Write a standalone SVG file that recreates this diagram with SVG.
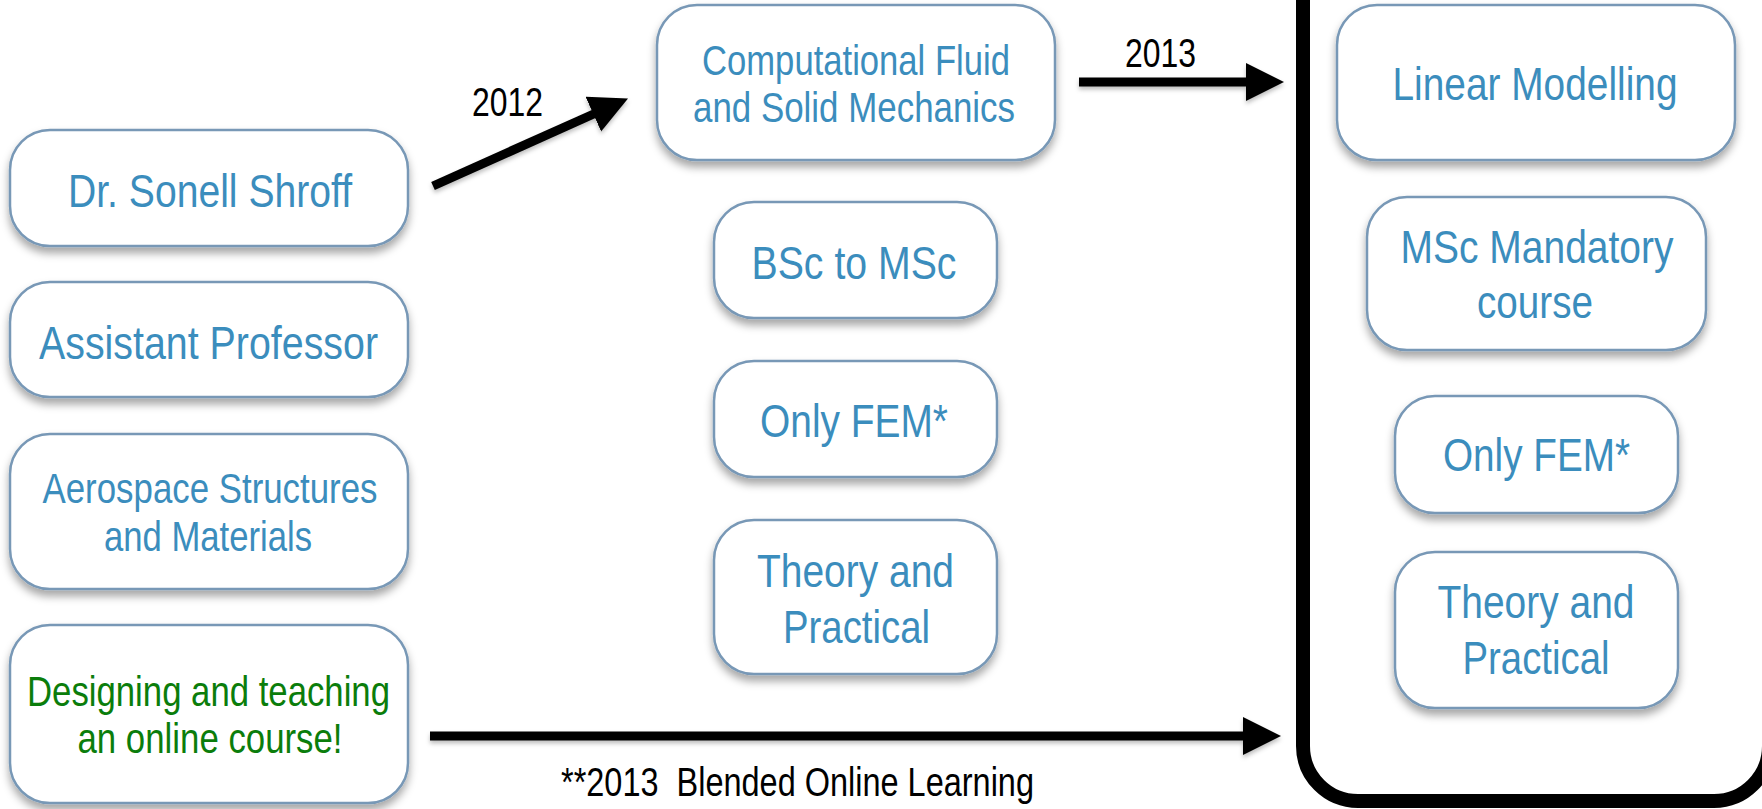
<svg xmlns="http://www.w3.org/2000/svg" width="1762" height="809" viewBox="0 0 1762 809">
  <defs>
    <style>
      .box { fill: #ffffff; stroke: #7898b6; stroke-width: 2.5; filter: url(#shadow); }
      .t { font-family: "Liberation Sans", Arial, sans-serif; fill: #3b8dbd; text-anchor: middle; }
      .big { font-size: 47px; }
      .mid { font-size: 42px; }
      .green { fill: #0b7d0b; }
      .lbl { font-family: "Liberation Sans", Arial, sans-serif; fill: #000000; font-size: 40px; text-anchor: middle; }
      .arrow { stroke: #000000; stroke-width: 9; fill: none; marker-end: url(#head); }
      .container { fill: #ffffff; stroke: #000000; stroke-width: 14; }
    </style>
    <filter id="shadow" x="-10%" y="-10%" width="120%" height="135%">
      <feDropShadow dx="0" dy="6" stdDeviation="4" flood-color="#000000" flood-opacity="0.35"/>
    </filter>
    <filter id="ashadow" filterUnits="userSpaceOnUse" x="0" y="0" width="1762" height="809">
      <feDropShadow dx="0" dy="3" stdDeviation="2" flood-color="#000000" flood-opacity="0.25"/>
    </filter>
    <marker id="head" markerUnits="userSpaceOnUse" markerWidth="42" markerHeight="42" refX="4" refY="19" orient="auto">
      <path d="M0,0 L38,19 L0,38 Z" fill="#000000"/>
    </marker>
  </defs>

  <rect x="0" y="0" width="1762" height="809" fill="#ffffff"/>

  <g id="container">
    <rect class="container" x="1303" y="-60" width="466" height="861" rx="55" ry="55"/>
  </g>

  <g id="connectors" filter="url(#ashadow)">
    <line class="arrow" x1="433" y1="186" x2="597" y2="112.5"/>
    <line class="arrow" x1="1079" y1="82" x2="1250" y2="82"/>
    <line class="arrow" x1="430" y1="736" x2="1247" y2="736"/>
  </g>
  <g id="connector-labels">
    <text class="lbl" x="507.5" y="116" textLength="71" lengthAdjust="spacingAndGlyphs">2012</text>
    <text class="lbl" x="1160.5" y="67" textLength="71" lengthAdjust="spacingAndGlyphs">2013</text>
    <text class="lbl" x="797.5" y="796" textLength="473" lengthAdjust="spacingAndGlyphs" style="white-space:pre">**2013  Blended Online Learning</text>
  </g>

  <g id="node-dr-sonell">
    <rect class="box" x="10" y="130" width="398" height="116" rx="40"/>
    <text class="t big" x="210" y="207" textLength="284" lengthAdjust="spacingAndGlyphs">Dr. Sonell Shroff</text>
  </g>
  <g id="node-assistant-professor">
    <rect class="box" x="10" y="282" width="398" height="115" rx="40"/>
    <text class="t big" x="208.5" y="359" textLength="339" lengthAdjust="spacingAndGlyphs">Assistant Professor</text>
  </g>
  <g id="node-aerospace">
    <rect class="box" x="10" y="434" width="398" height="155" rx="40"/>
    <text class="t mid" x="210" y="503" textLength="335" lengthAdjust="spacingAndGlyphs">Aerospace Structures</text>
    <text class="t mid" x="208" y="551" textLength="208" lengthAdjust="spacingAndGlyphs">and Materials</text>
  </g>
  <g id="node-designing">
    <rect class="box" x="10" y="625" width="398" height="178" rx="40"/>
    <text class="t mid green" x="208.5" y="706" textLength="363" lengthAdjust="spacingAndGlyphs">Designing and teaching</text>
    <text class="t mid green" x="210" y="753" textLength="265" lengthAdjust="spacingAndGlyphs">an online course!</text>
  </g>

  <g id="node-cfsm">
    <rect class="box" x="657" y="5" width="398" height="155" rx="40"/>
    <text class="t mid" x="856" y="75" textLength="308" lengthAdjust="spacingAndGlyphs">Computational Fluid</text>
    <text class="t mid" x="854" y="122" textLength="322" lengthAdjust="spacingAndGlyphs">and Solid Mechanics</text>
  </g>
  <g id="node-bsc-msc">
    <rect class="box" x="714" y="202" width="283" height="116" rx="40"/>
    <text class="t big" x="854" y="279" textLength="205" lengthAdjust="spacingAndGlyphs">BSc to MSc</text>
  </g>
  <g id="node-only-fem-1">
    <rect class="box" x="714" y="361" width="283" height="116" rx="40"/>
    <text class="t big" x="854" y="437" textLength="188" lengthAdjust="spacingAndGlyphs">Only FEM*</text>
  </g>
  <g id="node-theory-1">
    <rect class="box" x="714" y="520" width="283" height="154" rx="40"/>
    <text class="t big" x="855.5" y="587" textLength="197" lengthAdjust="spacingAndGlyphs">Theory and</text>
    <text class="t big" x="856.5" y="643" textLength="147" lengthAdjust="spacingAndGlyphs">Practical</text>
  </g>

  <g id="node-linear-modelling">
    <rect class="box" x="1337" y="5" width="398" height="155" rx="40"/>
    <text class="t big" x="1535" y="100" textLength="285" lengthAdjust="spacingAndGlyphs">Linear Modelling</text>
  </g>
  <g id="node-msc-mandatory">
    <rect class="box" x="1367" y="197" width="339" height="153" rx="40"/>
    <text class="t big" x="1537" y="263" textLength="273" lengthAdjust="spacingAndGlyphs">MSc Mandatory</text>
    <text class="t big" x="1535" y="318" textLength="116" lengthAdjust="spacingAndGlyphs">course</text>
  </g>
  <g id="node-only-fem-2">
    <rect class="box" x="1395" y="396" width="283" height="117" rx="40"/>
    <text class="t big" x="1536.5" y="471" textLength="187" lengthAdjust="spacingAndGlyphs">Only FEM*</text>
  </g>
  <g id="node-theory-2">
    <rect class="box" x="1395" y="552" width="283" height="156" rx="40"/>
    <text class="t big" x="1536" y="618" textLength="197" lengthAdjust="spacingAndGlyphs">Theory and</text>
    <text class="t big" x="1536" y="674" textLength="147" lengthAdjust="spacingAndGlyphs">Practical</text>
  </g>
</svg>
